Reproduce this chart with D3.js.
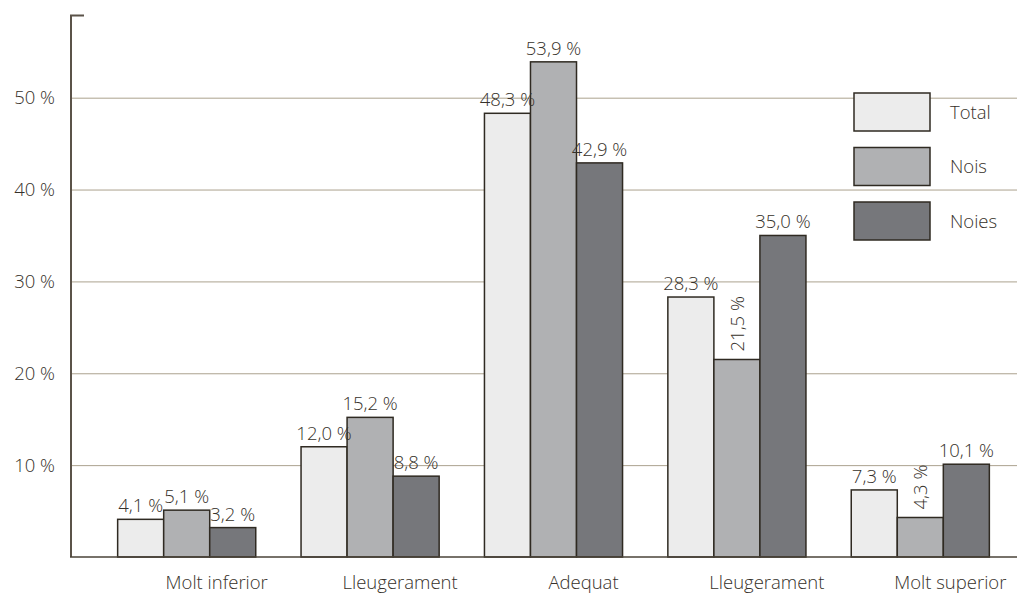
<!DOCTYPE html>
<meta charset="utf-8">
<style>
body { margin: 0; background: #fff; }
svg text {
  font-family: "Open Sans", "DejaVu Sans", sans-serif;
  font-weight: 300;
  font-size: 18.5px;
  fill: #36312a;
}
.grid line { stroke: #aba28e; stroke-width: 1px; }
.bars rect { stroke: #2f2a22; stroke-width: 1.5px; }
</style>
<body>
  <svg></svg>
</body>
<script src="https://cdn.jsdelivr.net/npm/d3@7"></script>
<script>

var categories = ["Molt inferior", "Lleugerament", "Adequat", "Lleugerament", "Molt superior"];
var series = ["Total", "Nois", "Noies"];
var total = [4.1, 12.0, 48.3, 28.3, 7.3];
var nois  = [5.1, 15.2, 53.9, 21.5, 4.3];
var noies = [3.2, 8.8, 42.9, 35.0, 10.1];
var yTicks = [10, 20, 30, 40, 50];
// labels written vertically (category index, series)
var rotated = [[3, "Nois"], [4, "Nois"]];

var colors = { "Total": "#ececec", "Nois": "#b0b1b3", "Noies": "#76777b" };

var width = 1017, height = 594;

var svg = d3.select("svg")
    .attr("width", width)
    .attr("height", height);

var x0 = d3.scaleBand()
    .domain(d3.range(categories.length))
    .range([95, 1012])
    .paddingInner(0.247)
    .paddingOuter(0.1235);

var x1 = d3.scaleBand()
    .domain(series)
    .range([0, x0.bandwidth()]);

var y = d3.scaleLinear()
    .domain([0, 59])
    .range([557, 15]);

var values = { "Total": total, "Nois": nois, "Noies": noies };
var rows = [];
categories.forEach(function(c, i) {
  series.forEach(function(s) {
    rows.push({ i: i, s: s, v: values[s][i] });
  });
});

function fmt(v) { return d3.format(".1f")(v).replace(".", ",") + " %"; }
function isRotated(d) {
  return rotated.some(function(r) { return r[0] == d.i && r[1] == d.s; });
}

// gridlines
svg.append("g")
    .attr("class", "grid")
  .selectAll("line")
  .data(yTicks)
  .enter().append("line")
    .attr("x1", 70)
    .attr("x2", width)
    .attr("y1", function(d) { return y(d) + 0.5; })
    .attr("y2", function(d) { return y(d) + 0.5; });

// tick labels
svg.append("g")
  .selectAll("text")
  .data(yTicks)
  .enter().append("text")
    .attr("x", 55)
    .attr("y", function(d) { return y(d); })
    .attr("dy", "0.36em")
    .attr("text-anchor", "end")
    .text(function(d) { return d + " %"; });

// bars
svg.append("g")
    .attr("class", "bars")
  .selectAll("rect")
  .data(rows)
  .enter().append("rect")
    .attr("x", function(d) { return x0(d.i) + x1(d.s); })
    .attr("y", function(d) { return y(d.v); })
    .attr("width", x1.bandwidth())
    .attr("height", function(d) { return y(0) - y(d.v); })
    .attr("fill", function(d) { return colors[d.s]; });

// value labels
svg.append("g")
  .selectAll("text")
  .data(rows)
  .enter().append("text")
    .attr("transform", function(d) {
      var cx = x0(d.i) + x1(d.s) + x1.bandwidth() / 2;
      if (isRotated(d)) return "translate(" + cx + "," + (y(d.v) - 8) + ") rotate(-90)";
      return "translate(" + cx + "," + (y(d.v) - 7) + ")";
    })
    .attr("dy", function(d) { return isRotated(d) ? "0.36em" : 0; })
    .attr("text-anchor", function(d) { return isRotated(d) ? "start" : "middle"; })
    .text(function(d) { return fmt(d.v); });

// axis lines
svg.append("path")
    .attr("d", "M84,15.5H71V" + y(0))
    .attr("fill", "none")
    .attr("stroke", "#5b5349")
    .attr("stroke-width", 2);

svg.append("line")
    .attr("x1", 70)
    .attr("x2", width)
    .attr("y1", y(0))
    .attr("y2", y(0))
    .attr("stroke", "#4a4339")
    .attr("stroke-width", 1.5);

// category labels
svg.append("g")
  .selectAll("text")
  .data(categories)
  .enter().append("text")
    .attr("x", function(d, i) { return x0(i) + x0.bandwidth() / 2 + 30; })
    .attr("y", 589)
    .attr("text-anchor", "middle")
    .text(function(d) { return d; });

// legend
var legend = svg.append("g")
  .selectAll("g")
  .data(series)
  .enter().append("g")
    .attr("transform", function(d, i) { return "translate(854," + (93 + i * 54.5) + ")"; });

legend.append("rect")
    .attr("width", 76)
    .attr("height", 38)
    .attr("fill", function(d) { return colors[d]; })
    .attr("stroke", "#2f2a22")
    .attr("stroke-width", 1.5);

legend.append("text")
    .attr("x", 96)
    .attr("y", 19)
    .attr("dy", "0.36em")
    .text(function(d) { return d; });

</script>
